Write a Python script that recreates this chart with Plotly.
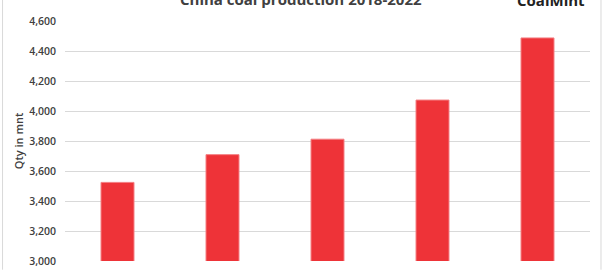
import plotly.graph_objects as go

years = ["2018", "2019", "2020", "2021", "2022"]
production = [3524, 3709, 3812, 4073, 4487]
y_ticks = [3000, 3200, 3400, 3600, 3800, 4000, 4200, 4400, 4600]

fig = go.Figure()
fig.add_trace(go.Bar(
    x=years, y=production,
    marker=dict(color="#EE3338", line=dict(color="#F47E82", width=1)),
))

W, H = 604, 270
ml, mr, mt, mb = 65, 13.5, 21.3, 8.7
pw, ph = W - ml - mr, H - mt - mb

def px_x(p):
    return (p - ml) / pw

def px_y(p):
    return 1 - (p - mt) / ph

fig.update_layout(
    width=W, height=H,
    margin=dict(l=ml, r=mr, t=mt, b=mb, autoexpand=False),
    paper_bgcolor="white", plot_bgcolor="white",
    bargap=0.686,
    showlegend=False,
    font=dict(family="Open Sans", color="#404040"),
    xaxis=dict(
        showgrid=False, showline=False, ticks="", automargin=False,
        ticklabelstandoff=6,
        tickfont=dict(size=11, weight=600, color="#404040"),
    ),
    yaxis=dict(
        range=[3000, 4600], tickvals=y_ticks, tickformat=",",
        showgrid=True, gridcolor="#D9D9D9", gridwidth=1,
        zeroline=False, showline=False, automargin=False,
        ticks="", ticklabelstandoff=8,
        tickfont=dict(size=10.5, weight=600, color="#404040"),
        title=dict(text="Qty in mnt", standoff=3,
                   font=dict(size=11, weight=600, color="#404040")),
    ),
    annotations=[
        dict(text="China coal production 2018-2022", xref="paper", yref="paper",
             x=px_x(301), y=px_y(-1), xanchor="center", yanchor="middle",
             showarrow=False, font=dict(size=15, weight=700, color="#404040")),
        dict(text="CoalMint", xref="paper", yref="paper",
             x=px_x(551), y=px_y(0), xanchor="center", yanchor="middle",
             showarrow=False, bgcolor="white",
             font=dict(size=15, weight=700, color="#222222")),
    ],
    shapes=[
        dict(type="line", xref="paper", yref="paper",
             x0=px_x(2.5), x1=px_x(2.5), y0=px_y(0), y1=px_y(270),
             line=dict(color="#D9D9D9", width=1)),
        dict(type="line", xref="paper", yref="paper",
             x0=px_x(601.5), x1=px_x(601.5), y0=px_y(0), y1=px_y(270),
             line=dict(color="#D9D9D9", width=1)),
    ],
)

fig.write_html("out.html")
